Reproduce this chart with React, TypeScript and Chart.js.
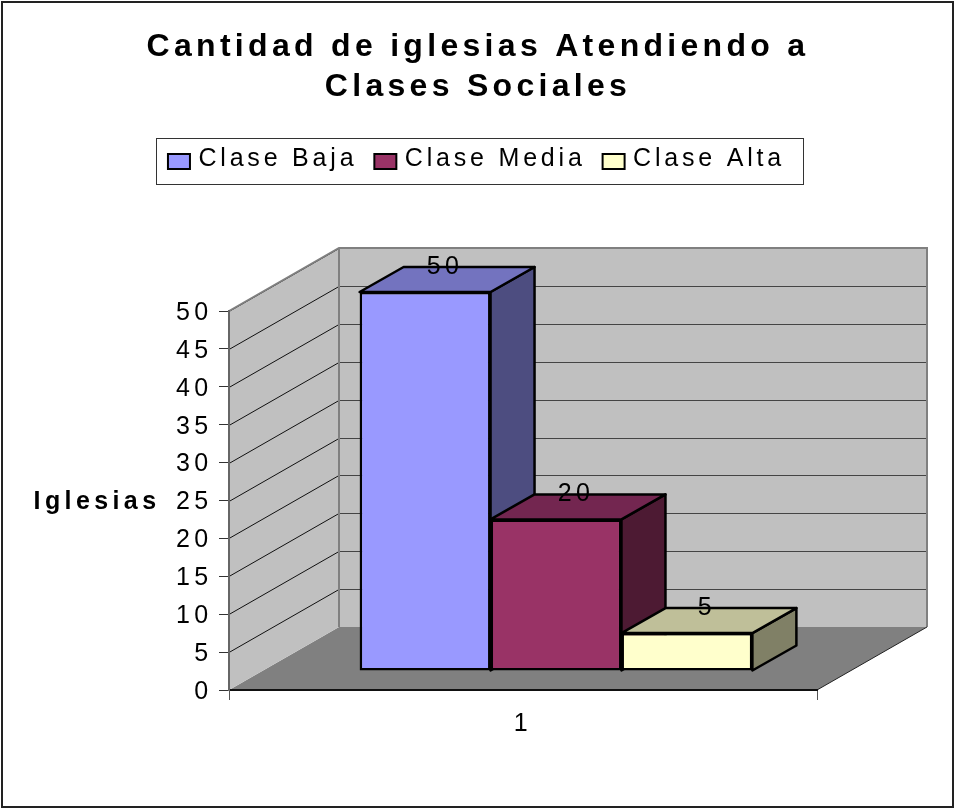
import React, { useEffect, useRef } from "react";
import { Chart, registerables, layouts } from "chart.js";

Chart.register(...registerables);

const titleLines = ["Cantidad de iglesias Atendiendo a", "Clases Sociales"];
const axisTitle = "Iglesias";
const categories = ["1"];
const seriesNames = ["Clase Baja", "Clase Media", "Clase Alta"];
const claseBaja = [50];
const claseMedia = [20];
const claseAlta = [5];
const frontColors = ["#9999ff", "#993366", "#ffffcc"];
const topColors = ["#7373bf", "#732650", "#bfbf99"];
const sideColors = ["#4d4d80", "#4d1a33", "#808066"];

const FONT = '"Liberation Sans", Arial, sans-serif';
const SPACING = "4.4px";
const LEGEND_SPACING = "3.8px";
const TITLE_SPACING = "4.3px";
const LEGEND_SHIFT = -1.5;
const WALL = { dx: 110, dy: -63 };
const BAR = { ox: 33, oy: -19, dx: 44, dy: -25 };

function poly(ctx: any, pts: number[][], fill: string | null, stroke: string | null, lw = 1) {
  ctx.beginPath();
  pts.forEach((p, i) => (i ? ctx.lineTo(p[0], p[1]) : ctx.moveTo(p[0], p[1])));
  ctx.closePath();
  if (fill) {
    ctx.fillStyle = fill;
    ctx.fill();
  }
  if (stroke) {
    ctx.strokeStyle = stroke;
    ctx.lineWidth = lw;
    ctx.lineJoin = "round";
    ctx.stroke();
  }
}

function patchDraw(box: any, ctx: any, method: string, spacing: string, tx = 0, ty = 0) {
  const flag = "__patched_" + method;
  if (!box || box[flag]) return;
  const orig = box[method];
  box[flag] = true;
  box[method] = function (...a: any[]) {
    ctx.save();
    ctx.letterSpacing = spacing;
    ctx.translate(tx, ty);
    orig.apply(this, a);
    ctx.restore();
  };
}

const excel3d = {
  id: "excel3d",
  beforeInit(chart: any) {
    layouts.addBox(chart, {
      position: "top", weight: 100, fullSize: true, options: { display: true },
      isHorizontal: () => true,
      update(this: any, w: number) { this.width = w; this.height = 129; },
      draw() {},
    } as any);
    layouts.addBox(chart, {
      position: "right", weight: 100, fullSize: false, options: { display: true },
      isHorizontal: () => false,
      update(this: any, _w: number, h: number) { this.width = 139; this.height = h; },
      draw() {},
    } as any);
  },
  beforeLayout(chart: any) {
    chart.ctx.letterSpacing = LEGEND_SPACING;
  },
  beforeDraw(chart: any) {
    const ctx = chart.ctx;
    ctx.letterSpacing = SPACING;
    patchDraw(chart.titleBlock, ctx, "draw", TITLE_SPACING);
    patchDraw(chart.legend, ctx, "draw", LEGEND_SPACING, LEGEND_SHIFT);
    patchDraw(chart.scales.y, ctx, "drawLabels", SPACING, 0, 2);
    const { left, right, top, bottom } = chart.chartArea;
    const { dx, dy } = WALL;
    ctx.save();
    ctx.strokeStyle = "#222222";
    ctx.lineWidth = 2;
    ctx.strokeRect(2, 2, 951, 805);
    ctx.strokeStyle = "#333333";
    ctx.lineWidth = 1;
    ctx.strokeRect(156.5, 138.5, 647, 46);

    poly(ctx, [[left, bottom], [right, bottom], [right + dx, bottom + dy], [left + dx, bottom + dy]], "#808080", null);
    poly(ctx, [[left, top], [left + dx, top + dy], [left + dx, bottom + dy], [left, bottom]], "#c0c0c0", null);
    poly(ctx, [[left + dx, top + dy], [right + dx, top + dy], [right + dx, bottom + dy], [left + dx, bottom + dy]], "#c0c0c0", null);

    const y = chart.scales.y;
    ctx.lineWidth = 1;
    y.ticks.forEach((t: any) => {
      if (t.value === 0) return;
      const py = Math.round(y.getPixelForValue(t.value)) + 0.5;
      ctx.strokeStyle = "#111111";
      ctx.beginPath();
      ctx.moveTo(left, py);
      ctx.lineTo(left + dx, py + dy);
      ctx.stroke();
      ctx.strokeStyle = "#444444";
      ctx.beginPath();
      ctx.moveTo(left + dx, py + dy);
      ctx.lineTo(right + dx, py + dy);
      ctx.stroke();
    });
    ctx.strokeStyle = "#808080";
    ctx.lineWidth = 2;
    ctx.beginPath();
    ctx.moveTo(left, top);
    ctx.lineTo(left + dx, top + dy);
    ctx.lineTo(right + dx, top + dy);
    ctx.lineTo(right + dx, bottom + dy);
    ctx.moveTo(left + dx, top + dy);
    ctx.lineTo(left + dx, bottom + dy);
    ctx.stroke();
    ctx.strokeStyle = "#222222";
    ctx.lineWidth = 1;
    ctx.beginPath();
    ctx.moveTo(right, bottom);
    ctx.lineTo(right + dx, bottom + dy);
    ctx.stroke();
    ctx.restore();
  },
  beforeDatasetsDraw(chart: any) {
    const ctx = chart.ctx;
    ctx.save();
    ctx.translate(BAR.ox, BAR.oy);
    chart.data.datasets.forEach((_d: any, i: number) => {
      const el = chart.getDatasetMeta(i).data[0];
      const { x, y, base, width } = el.getProps(["x", "y", "base", "width"], true);
      const l = x - width / 2;
      const r = x + width / 2;
      poly(ctx, [[r, y], [r + BAR.dx, y + BAR.dy], [r + BAR.dx, base + BAR.dy], [r, base]], sideColors[i], "#000000", 2.5);
      poly(ctx, [[l, y], [l + BAR.dx, y + BAR.dy], [r + BAR.dx, y + BAR.dy], [r, y]], topColors[i], "#000000", 2.5);
      el.draw(ctx);
    });
    ctx.restore();
    return false;
  },
  afterDraw(chart: any) {
    const ctx = chart.ctx;
    ctx.save();
    // Excel's wide legend keys, placed the way the legend advances its own items.
    const lg = chart.legend;
    const pad = lg.options.labels.padding;
    const bw = lg.options.labels.boxWidth;
    const fs = lg.options.labels.font.size;
    let cursor = (lg.left + pad + lg.right - lg.lineWidths[0]) / 2 + LEGEND_SHIFT;
    ctx.font = `${fs}px ${FONT}`;
    ctx.letterSpacing = LEGEND_SPACING;
    lg.legendItems.forEach((item: any, i: number) => {
      ctx.fillStyle = frontColors[i];
      ctx.strokeStyle = "#000000";
      ctx.lineWidth = 2;
      ctx.fillRect(cursor, 154, 22, 15);
      ctx.strokeRect(cursor, 154, 22, 15);
      cursor += bw + fs / 2 + ctx.measureText(item.text).width + pad;
    });
    ctx.letterSpacing = SPACING;
    ctx.fillStyle = "#000000";
    ctx.textBaseline = "middle";
    ctx.textAlign = "center";
    ctx.font = `25px ${FONT}`;
    chart.data.datasets.forEach((d: any, i: number) => {
      const el = chart.getDatasetMeta(i).data[0];
      ctx.fillText(String(d.data[0]), el.x + BAR.ox + 20, el.y + BAR.oy - 25);
    });
    ctx.font = `bold 25px ${FONT}`;
    ctx.fillText(axisTitle, 97, 502);
    ctx.restore();
  },
};

export default function App() {
  const ref = useRef<HTMLCanvasElement>(null);
  useEffect(() => {
    document.body.style.margin = "0";
    const font = { family: FONT, size: 25 };
    const chart = new Chart(ref.current!, {
      type: "bar",
      data: {
        labels: categories,
        datasets: [claseBaja, claseMedia, claseAlta].map((data, i) => ({
          label: seriesNames[i],
          data,
          backgroundColor: frontColors[i],
          borderColor: "#000000",
          borderWidth: 2.5,
          borderSkipped: false,
          categoryPercentage: 0.668,
          barPercentage: 1,
        })),
      },
      options: {
        responsive: false,
        animation: false,
        layout: { padding: 0 },
        plugins: {
          tooltip: { enabled: false },
          title: {
            display: true,
            text: titleLines,
            color: "#000000",
            font: { family: FONT, size: 32, weight: "bold", lineHeight: 40 / 32 },
            padding: { top: 27, bottom: 23 },
          },
          legend: {
            display: true,
            position: "top",
            labels: {
              font,
              color: "#000000",
              boxWidth: 18,
              boxHeight: 17,
              padding: 17,
              generateLabels: (chart: any) =>
                Chart.defaults.plugins.legend.labels.generateLabels(chart).map((l: any) => ({
                  ...l,
                  fillStyle: "transparent",
                  strokeStyle: "transparent",
                  lineWidth: 0,
                })),
            },
          },
        },
        scales: {
          x: {
            afterFit(s: any) { s.height = 120; },
            grid: { drawOnChartArea: false, drawTicks: true, tickLength: 10, color: "#555555" },
            border: { color: "#111111", width: 2 },
            ticks: { font, color: "#000000", padding: 9 },
          },
          y: {
            min: 0,
            max: 50,
            afterFit(s: any) { s.width = 229; },
            grid: { drawOnChartArea: false, drawTicks: true, tickLength: 10, color: "#333333" },
            border: { color: "#666666", width: 2 },
            ticks: { font, color: "#000000", stepSize: 5, padding: 6.5 },
          },
        },
      } as any,
      plugins: [excel3d],
    });
    return () => chart.destroy();
  }, []);
  return <canvas ref={ref} width={956} height={810} style={{ display: "block" }} />;
}
